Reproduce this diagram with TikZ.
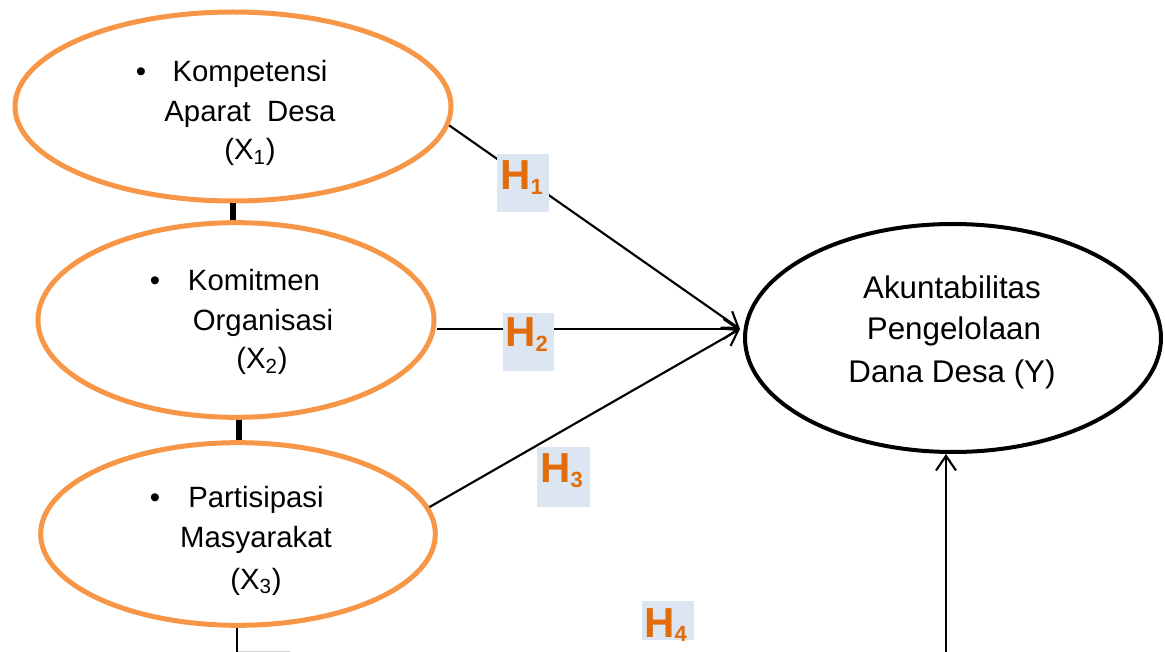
\documentclass[tikz,border=0pt]{standalone}
\usepackage{fontspec}
\setmainfont{Liberation Sans}
\usetikzlibrary{shapes.geometric,arrows.meta}
\definecolor{orng}{HTML}{F79646}
\definecolor{hboxc}{HTML}{DCE6F2}
\definecolor{htxt}{HTML}{E26B0A}
\newcommand\Hsub[1]{\raisebox{-3.5pt}{\fontsize{16.5}{16.5}\selectfont #1}}
\begin{document}
\begin{tikzpicture}[x=0.75pt,y=-0.75pt,
  xell/.style={ellipse, draw=orng, line width=3.75pt, fill=white, inner sep=0pt},
  yell/.style={ellipse, draw=black, line width=3pt, fill=white, inner sep=0pt},
  xt/.style={font=\fontsize{22}{29}\selectfont, anchor=base, inner sep=0pt},
  yt/.style={font=\fontsize{23.5}{31}\selectfont, anchor=base, inner sep=0pt},
  arr/.style={line width=1.6pt, -{Straight Barb[length=11pt,width=15pt,line width=1.6pt]}},
  link/.style={line width=4pt},
  hbox/.style={fill=hboxc, inner sep=0pt, anchor=north west},
  ht/.style={text=htxt, font=\fontsize{31.5}{31.5}\selectfont\bfseries, anchor=base west, inner sep=0pt}]
\useasboundingbox (0,0) rectangle (1165,652);

% ellipses
\node[xell, minimum width=327pt, minimum height=141.75pt] (X1) at (233,106.5) {};
\node[xell, minimum width=297pt, minimum height=146pt] (X2) at (236,320) {};
\node[xell, minimum width=296pt, minimum height=137pt] (X3) at (238,534) {};
\node[yell, minimum width=312pt, minimum height=171pt] (Y) at (953,338) {};

% texts
\node[xt] (x1d) at (141,82) {•};
\node[xt] (x1a) at (250,82) {Kompetensi};
\node[xt] (x1b) at (250,122) {Aparat\ \ Desa};
\node[xt] (x1c) at (250,160) {(X\textsubscript{1})};

\node[xt] (x2d) at (155,291) {•};
\node[xt] (x2a) at (254,291) {Komitmen};
\node[xt] (x2b) at (263,331) {Organisasi};
\node[xt] (x2c) at (262,369) {(X\textsubscript{2})};

\node[xt] (x3d) at (155,508) {•};
\node[xt] (x3a) at (256,508) {Partisipasi};
\node[xt] (x3b) at (256,547) {Masyarakat};
\node[xt] (x3c) at (256,589) {(X\textsubscript{3})};

\node[yt] (ya) at (952,299) {Akuntabilitas};
\node[yt] (yb) at (954,340) {Pengelolaan};
\node[yt] (yc) at (952,383) {Dana Desa (Y)};

% coordinates
\coordinate (tgt) at (740,329);
\coordinate (bstart) at (946,652);
\coordinate (xbot) at (237,652);
\coordinate (g1) at (238,651.5);
\coordinate (g2) at (290,651.5);

% links between ellipses
\draw[link] (X1.south) -- (X1.south |- X2.north);
\draw[link] (X2.south) ++(3,0) coordinate (l2) -- (l2 |- X3.north);
\draw[line width=1.5pt] (xbot |- X3.south) -- (xbot);
\draw[gray!35, line width=0.75pt] (g1) -- (g2);

% arrows
\draw[arr] (X1.-5) -- (tgt);
\draw[arr] (X2.east |- tgt) -- (tgt);
\draw[arr] (X3.8) -- (tgt);
\draw[arr] (bstart) -- (bstart |- Y.south);

% H boxes
\node[hbox, minimum width=39pt, minimum height=43.5pt] (h1) at (497,154) {};
\node[hbox, minimum width=38.25pt, minimum height=43.5pt] (h2) at (503,313) {};
\node[hbox, minimum width=39.75pt, minimum height=45pt] (h3) at (537,447) {};
\node[hbox, minimum width=39pt, minimum height=29.25pt] (h4) at (642,601) {};

\node[ht] (h1t) at (500,190) {H\Hsub{1}};
\node[ht] (h2t) at (505,347) {H\Hsub{2}};
\node[ht] (h3t) at (540,483) {H\Hsub{3}};
\begin{scope}
\clip (h4.north west) rectangle (h4.south east);
\node[ht] (h4t) at (644,637) {H\Hsub{4}};
\end{scope}
\end{tikzpicture}
\end{document}
